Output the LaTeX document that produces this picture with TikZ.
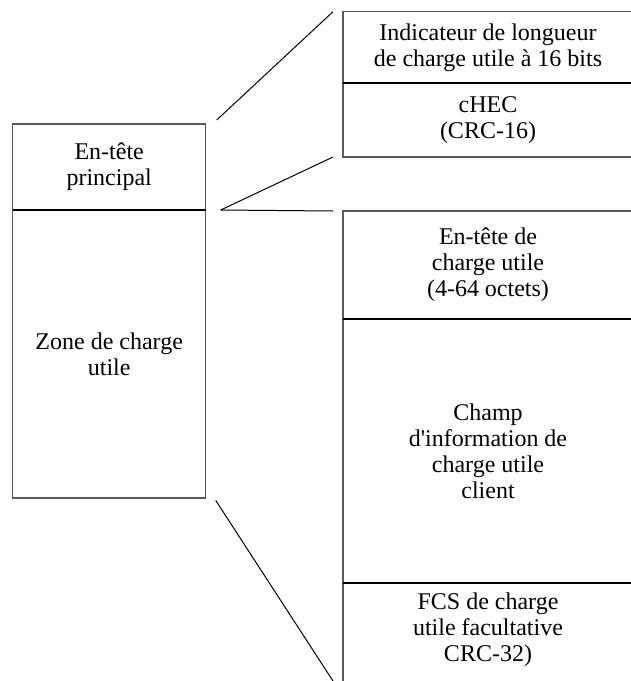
\documentclass[tikz,border=0pt]{standalone}
\usepackage{fontspec}
\setmainfont{Liberation Serif}[Ligatures=TeXOff]
\usetikzlibrary{positioning}

\begin{document}
\begin{tikzpicture}[
      x=1pt,
      y=-1pt,
      cell/.style={
          draw=black!65,
          line width=1.1pt,
          rectangle,
          outer sep=0pt,
          inner sep=0pt,
          align=center,
          font=\fontsize{24}{26}\selectfont
        },
      leftcell/.style={
          cell,
          minimum width=193pt
        },
      rightcell/.style={
          cell,
          minimum width=290pt
        },
      label/.style={
          align=center,
          inner sep=0pt,
          font=\fontsize{24}{26}\selectfont
        },
      divider/.style={
          draw=black,
          line width=1.6pt
        },
      zoomline/.style={
          draw=black,
          line width=1pt
        }
    ]
    \useasboundingbox (0,0) rectangle (631,681);
    \node[leftcell, minimum height=86pt] (hdr) at (109.2,167) {En-tête\\principal};
    \node[leftcell, minimum height=288pt, below=0pt of hdr] (zone) {Zone de charge\\utile};
    \node[rightcell, minimum height=71.3pt] (ind) at (488,47.35) {Indicateur de longueur\\de charge utile à 16 bits};
    \node[rightcell, minimum height=74pt, below=0pt of ind] (chec) {cHEC\\(CRC-16)};
    \node[rightcell, minimum height=108pt] (pen) at (488,265) {En-tête de\\charge utile\\(4-64 octets)};
    \node[rightcell, minimum height=264pt, below=0pt of pen] (champ) {Champ\\d'information de\\charge utile\\client};
    \node[label, below=10pt of champ] (fcs) {FCS de charge\\utile facultative\\CRC-32)};
    \coordinate (cut) at (333,681);
    \draw[cell] (champ.south west) -- +(0,110);
    \foreach \n in {hdr,ind,pen,champ}
      \draw[divider] (\n.south west) -- (\n.south east);
    \draw[zoomline] ([shift={(11,-4)}]hdr.north east) -- ([xshift=-10pt]ind.north west);
    \draw[zoomline] ([xshift=15pt]hdr.south east) -- ([xshift=-10pt]chec.south west);
    \draw[zoomline] ([xshift=15pt]hdr.south east) -- ([xshift=-10pt]pen.north west);
    \draw[zoomline] ([shift={(10,2.4)}]zone.south east) -- (cut);
  \end{tikzpicture}
\end{document}
